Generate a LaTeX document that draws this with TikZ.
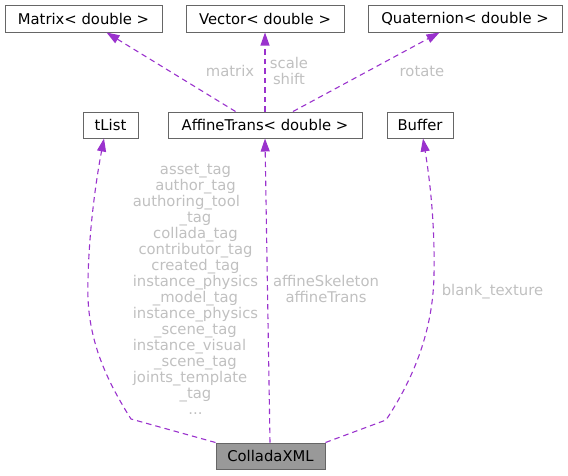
\documentclass[tikz,border=0pt]{standalone}
\usepackage{fontspec}
\usepackage{calc}
\setmainfont{DejaVu Sans}
\usetikzlibrary{arrows.meta}
\definecolor{edgec}{HTML}{9A32CD}
\definecolor{labc}{HTML}{C0C0C0}
\definecolor{boxc}{HTML}{666666}
\definecolor{curfill}{HTML}{999999}
\newcommand{\lpadline}[1]{\makebox[\widthof{instance\_physics}][l]{#1}}
\begin{document}
\begin{tikzpicture}[x=1pt,y=-1pt,
  every node/.style={font=\fontsize{14.8}{16}\selectfont},
  cls/.style={draw=boxc, line width=1pt, fill=white, rectangle, inner sep=0pt, minimum height=27pt},
  cur/.style={cls, fill=curfill},
  edge/.style={draw=edgec, line width=1.1pt, dash pattern=on 5.5pt off 4pt, -{Triangle[length=13pt,width=9pt]}},
  lab/.style={text=labc, inner sep=0pt, align=center}
]
\useasboundingbox (0,0) rectangle (568,475);
% classes
\node[cls, minimum width=157pt] (mat) at (83.5,18.5) {Matrix< double >};
\node[cls, minimum width=158pt] (vec) at (265,18.5) {Vector< double >};
\node[cls, minimum width=194pt] (quat) at (465,18.5) {Quaternion< double >};
\node[cls, minimum width=55pt, minimum height=26pt] (tl) at (110.5,125) {tList};
\node[cls, minimum width=194pt, minimum height=26pt] (at) at (265,125) {AffineTrans< double >};
\node[cls, minimum width=66pt, minimum height=26pt] (buf) at (420,125) {Buffer};
\node[cur, minimum width=109pt, minimum height=26pt] (col) at (270.5,456) {ColladaXML};
% edges
\draw[edge] ([xshift=68pt]at.north west) -- ([xshift=102pt]mat.south west);
\draw[edge] (at.north) -- (vec.south);
\draw[edge] ([xshift=125.5pt]at.north west) -- ([xshift=72pt]quat.south west);
\draw[edge] (col.north west) -- (131,419) .. controls (100,370) and (86,330) .. (88,280)
  .. controls (89,230) and (96,180) .. ([xshift=21.5pt]tl.south west);
\draw[edge] ([xshift=-0.5pt]col.north) -- (at.south);
\draw[edge] (col.north east) -- (386,420) .. controls (414,378) and (433,330) .. (434,275)
  .. controls (435,225) and (430,180) .. ([xshift=36.5pt]buf.south west);
% labels
\node[lab] (lmat) at (230,71) {matrix};
\node[lab] (lvec) at (289,71) {scale\\shift};
\node[lab] (lquat) at (422,71) {rotate};
\node[lab] (ltl) at (195.5,289.3) {asset\_tag\\author\_tag\\\lpadline{authoring\_tool}\\\_tag\\collada\_tag\\contributor\_tag\\created\_tag\\instance\_physics\\\_model\_tag\\instance\_physics\\\_scene\_tag\\\lpadline{instance\_visual}\\\_scene\_tag\\\lpadline{joints\_template}\\\_tag\\...};
\node[lab] (lat) at (326,289) {affineSkeleton\\affineTrans};
\node[lab, anchor=base] (lbuf) at (492.5,295) {blank\_texture};
\end{tikzpicture}
\end{document}
